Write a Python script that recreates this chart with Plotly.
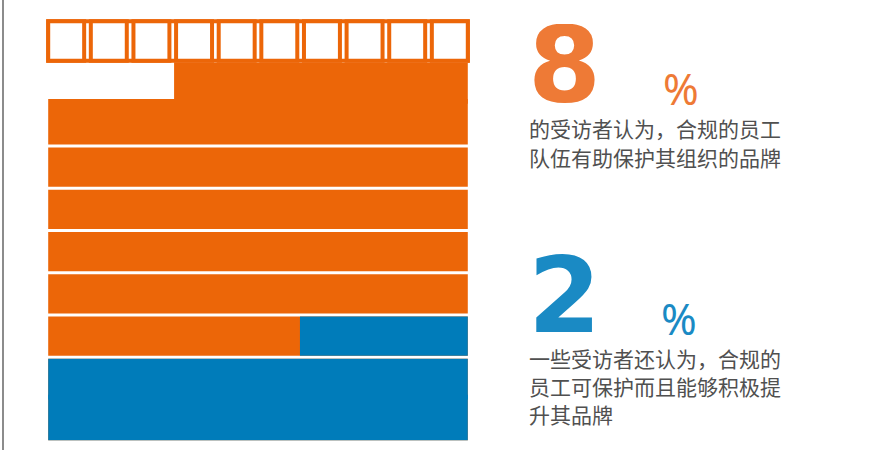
import plotly.graph_objects as go

# ---- data ---------------------------------------------------------------
GRID_COLS = 10
GRID_ROWS = 10
orange_cells = 87          # share of respondents (cells out of 100)
blue_cells = 24            # share of respondents (cells out of 100)

big_digits = ["8", "2"]
pct_sign = "%"
caption_orange = ["的受访者认为，合规的员工", "队伍有助保护其组织的品牌"]
caption_blue = ["一些受访者还认为，合规的", "员工可保护而且能够积极提", "升其品牌"]

# ---- style --------------------------------------------------------------
ORANGE = "#EC6608"
BLUE = "#007CBA"
ORANGE_TXT = "#EE7A36"
BLUE_TXT = "#1A8AC4"
GREY_TXT = "#505050"
ROW_PAD = 0.036            # half of the white gap between rows
MERGE_OVERLAP = 0.11
merged_rows = [(1, 2), (8, 9)]   # row pairs drawn without a gap between them

W, H = 874, 450
ML, MR, MT, MB = 44, 402, 15, 4
PW, PH = W - ML - MR, H - MT - MB


def px(x):
    return (x - ML) / PW


def py(y):
    return 1 - (y - MT) / PH


def row_extent(r):
    top = r + ROW_PAD
    bot = r + 1 - ROW_PAD
    for a, b in merged_rows:
        if r == b:
            top = r - MERGE_OVERLAP
        if r == a:
            bot = r + 1
    return top, bot


def cells_in_row(total, r):
    """Cells filled in row r (0 = top) when filling from the bottom, right aligned."""
    k = GRID_ROWS - 1 - r
    return max(0, min(GRID_COLS, total - k * GRID_COLS))


fig = go.Figure()

for total, color, name in [(orange_cells, ORANGE, "orange"), (blue_cells, BLUE, "blue")]:
    ys, xs, bases, widths = [], [], [], []
    for r in range(GRID_ROWS):
        n = cells_in_row(total, r)
        if n == 0:
            continue
        t, b = row_extent(r)
        ys.append((t + b) / 2)
        widths.append(b - t)
        xs.append(n)
        bases.append(GRID_COLS - n)
    fig.add_trace(go.Bar(
        orientation="h", y=ys, x=xs, base=bases, width=widths,
        marker=dict(color=color, line=dict(width=0)),
        name=name, hoverinfo="skip", showlegend=False,
    ))

# top row: empty outlined cells
empty_rows = [r for r in range(GRID_ROWS) if cells_in_row(orange_cells, r) == 0]
sq_w = 0.857
pitch = (GRID_COLS - sq_w) / (GRID_COLS - 1)
for r in empty_rows:
    y0, y1 = r + 0.05, r + 0.985
    fig.add_shape(type="rect", x0=0, x1=GRID_COLS, y0=y0, y1=y1,
                  line=dict(color=ORANGE, width=4), fillcolor="rgba(0,0,0,0)")
    for c in range(GRID_COLS):
        x0 = c * pitch
        fig.add_shape(type="rect", x0=x0, x1=x0 + sq_w, y0=y0, y1=y1,
                      line=dict(color=ORANGE, width=4), fillcolor="white")

# thin grey rule on the left edge
fig.add_shape(type="line", xref="paper", yref="paper",
              x0=px(3), x1=px(3), y0=py(0), y1=py(450),
              line=dict(color="#8C8C8C", width=2))

ann = []
# big figures
ann.append(dict(text=big_digits[0], x=px(526), y=py(66), xanchor="left", yanchor="middle",
                height=84,
                font=dict(family="DejaVu Sans", size=105, color=ORANGE_TXT, weight="bold")))
ann.append(dict(text=pct_sign, x=px(661), y=py(88), xanchor="left", yanchor="middle",
                height=34,
                font=dict(family="Noto Sans", size=43, color=ORANGE_TXT)))
ann.append(dict(text=big_digits[1], x=px(526), y=py(296), xanchor="left", yanchor="middle",
                height=84,
                font=dict(family="DejaVu Sans", size=105, color=BLUE_TXT, weight="bold")))
ann.append(dict(text=pct_sign, x=px(659), y=py(318), xanchor="left", yanchor="middle",
                height=34,
                font=dict(family="Noto Sans", size=43, color=BLUE_TXT)))

for i, line in enumerate(caption_orange):
    ann.append(dict(text=line, x=px(527), y=py(128 + 29 * i), xanchor="left", yanchor="middle",
                    font=dict(family="Noto Sans CJK SC", size=21, color=GREY_TXT)))
for i, line in enumerate(caption_blue):
    ann.append(dict(text=line, x=px(527), y=py(358 + 28 * i), xanchor="left", yanchor="middle",
                    font=dict(family="Noto Sans CJK SC", size=21, color=GREY_TXT)))

for a in ann:
    a.update(xref="paper", yref="paper", showarrow=False)

fig.update_layout(
    width=W, height=H,
    margin=dict(l=ML, r=MR, t=MT, b=MB, pad=0),
    paper_bgcolor="white", plot_bgcolor="white",
    barmode="overlay",
    xaxis=dict(range=[-0.1, GRID_COLS + 0.1], visible=False, fixedrange=True),
    yaxis=dict(range=[GRID_ROWS + 0.1, -0.1], visible=False, fixedrange=True),
    annotations=ann,
    showlegend=False,
)

fig.write_html("out.html", config=dict(displayModeBar=False))
